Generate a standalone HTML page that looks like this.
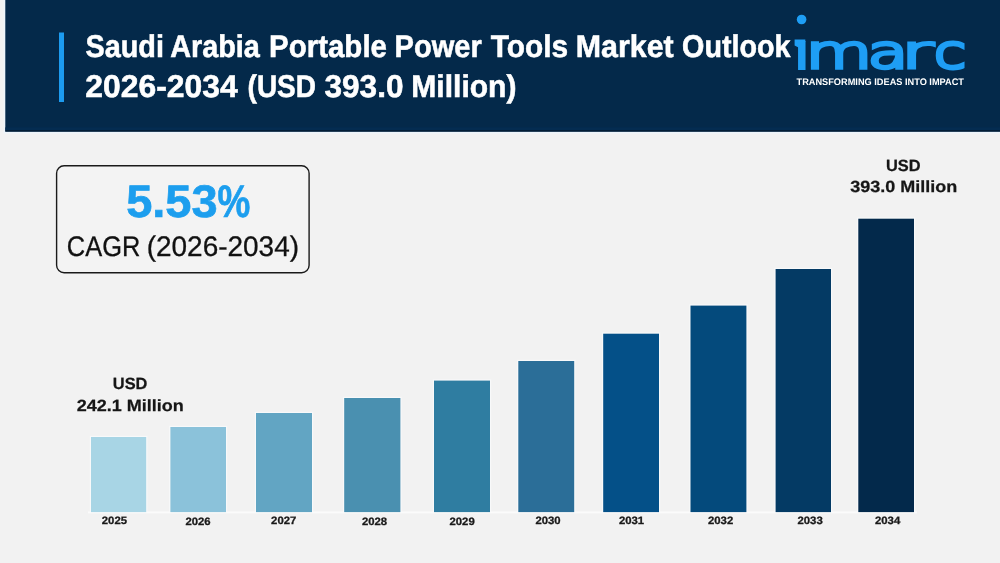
<!DOCTYPE html>
<html lang="en">
<head>
<meta charset="utf-8">
<title>Saudi Arabia Portable Power Tools Market Outlook 2026-2034</title>
<style>
html,body{margin:0;padding:0;background:#f2f2f2;}
body{width:1000px;height:563px;overflow:hidden;position:relative;}
svg{display:block;position:absolute;left:0;top:0;}
text{font-family:"Liberation Sans",sans-serif;text-rendering:geometricPrecision;}
.b{font-weight:700;}
.logo text{font-family:"DejaVu Sans","Liberation Sans",sans-serif;font-weight:200;vector-effect:non-scaling-stroke;text-rendering:auto;}
</style>
</head>
<body>
<svg width="1000" height="563" viewBox="0 0 1000 563">
  <defs>
    <clipPath id="idot"><rect x="780" y="39.5" width="40" height="40"/></clipPath>
  </defs>
  <rect x="0" y="0" width="1000" height="563" fill="#f2f2f2"/>
  <!-- header -->
  <rect x="3.6" y="0" width="996.4" height="133.6" fill="#eef5fb"/>
  <rect x="5.3" y="0" width="994.7" height="131.6" fill="#04294a"/>
  <rect x="5.3" y="127.4" width="994.7" height="2.6" fill="#042c51"/>
  <rect x="5.3" y="130" width="994.7" height="1.6" fill="#031d36"/>
  <rect x="59" y="32.5" width="5" height="69.5" fill="#1c9bf0"/>
  <text class="b" y="57" font-size="31.4" fill="#ffffff" stroke="#ffffff" stroke-width="0.55"><tspan x="85.44" textLength="78.46" lengthAdjust="spacingAndGlyphs">Saudi</tspan> <tspan x="170.19" textLength="89.69" lengthAdjust="spacingAndGlyphs">Arabia</tspan> <tspan x="269.00" textLength="117.97" lengthAdjust="spacingAndGlyphs">Portable</tspan> <tspan x="394.51" textLength="87.22" lengthAdjust="spacingAndGlyphs">Power</tspan> <tspan x="490.79" textLength="77.43" lengthAdjust="spacingAndGlyphs">Tools</tspan> <tspan x="575.80" textLength="97.90" lengthAdjust="spacingAndGlyphs">Market</tspan> <tspan x="682.09" textLength="108.51" lengthAdjust="spacingAndGlyphs">Outlook</tspan></text>
  <text class="b" y="96.9" font-size="31.4" fill="#ffffff" stroke="#ffffff" stroke-width="0.55"><tspan x="85.25" textLength="152.46" lengthAdjust="spacingAndGlyphs">2026-2034</tspan> <tspan x="247.55" textLength="68.51" lengthAdjust="spacingAndGlyphs">(USD</tspan> <tspan x="324.51" textLength="79.03" lengthAdjust="spacingAndGlyphs">393.0</tspan> <tspan x="411.33" textLength="105.13" lengthAdjust="spacingAndGlyphs">Million)</tspan></text>

  <!-- logo -->
  <circle cx="801.6" cy="19.5" r="4.8" fill="#1e9ef5"/>
  <polygon points="794.6,39.45 805.3,39.45 805.3,42 800,42 800,48.2 794.6,45.6" fill="#1e9ef5"/>
  <g class="logo" role="img" aria-label="imarc" font-size="46.8" fill="#1e9ef5" stroke="#1e9ef5" stroke-width="4.4" stroke-linejoin="miter"><g clip-path="url(#idot)"><text transform="translate(794.03,67.85) scale(1.235,1)">i</text></g><text transform="translate(805.71,67.85) scale(1.455,1)">m</text><text transform="translate(867.79,67.85) scale(1.411,1)">a</text><text transform="translate(901.06,67.85) scale(1.675,1)">r</text><text transform="translate(934.31,67.85) scale(1.221,1)">c</text></g>
  <text class="b" x="796.5" y="84.8" font-size="9.6" fill="#ffffff" textLength="167.5" lengthAdjust="spacingAndGlyphs">TRANSFORMING IDEAS INTO IMPACT</text>

  <!-- CAGR box -->
  <rect x="56.6" y="165.7" width="252.5" height="107" rx="7.5" ry="7.5" fill="#f3f3f3" stroke="#1a1a1a" stroke-width="1.4"/>
  <text class="b" y="217.1" font-size="45.6" fill="#1c9eee" stroke="#1c9eee" stroke-width="0.7"><tspan x="126.2" textLength="91.4" lengthAdjust="spacingAndGlyphs">5.53</tspan><tspan x="217.4" textLength="32.8" lengthAdjust="spacingAndGlyphs">%</tspan></text>
  <text y="255.9" font-size="28.3" fill="#111111" stroke="#111111" stroke-width="0.3"><tspan x="66.83" textLength="73.44" lengthAdjust="spacingAndGlyphs">CAGR</tspan> <tspan x="146.69" textLength="152.35" lengthAdjust="spacingAndGlyphs">(2026-2034)</tspan></text>

  <!-- bars -->
  <rect x="88" y="511.4" width="829" height="1.9" fill="#fbfbfb"/>
  <rect x="89.8" y="435.8" width="57.6" height="76.3" fill="#f8f9fa"/>
  <rect x="169.2" y="425.8" width="58.0" height="86.3" fill="#f8f9fa"/>
  <rect x="254.8" y="411.8" width="58.4" height="100.3" fill="#f8f9fa"/>
  <rect x="343.0" y="396.8" width="58.6" height="115.3" fill="#f8f9fa"/>
  <rect x="432.8" y="379.4" width="58.4" height="132.7" fill="#f8f9fa"/>
  <rect x="517.1" y="359.8" width="58.3" height="152.3" fill="#f8f9fa"/>
  <rect x="602.0" y="332.5" width="58.2" height="179.6" fill="#f8f9fa"/>
  <rect x="689.3" y="304.4" width="58.3" height="207.7" fill="#f8f9fa"/>
  <rect x="774.4" y="267.8" width="57.8" height="244.3" fill="#f8f9fa"/>
  <rect x="857.1" y="217.5" width="58.1" height="294.6" fill="#f8f9fa"/>
  <rect x="91" y="437" width="55.2" height="75.1" fill="#a8d5e5"/>
  <rect x="170.4" y="427" width="55.6" height="85.1" fill="#8bc2da"/>
  <rect x="256" y="413" width="56" height="99.1" fill="#62a5c3"/>
  <rect x="344.2" y="398" width="56.2" height="114.1" fill="#4a90b0"/>
  <rect x="434" y="380.6" width="56" height="131.5" fill="#2f7da1"/>
  <rect x="518.3" y="361" width="55.9" height="151.1" fill="#2b6e98"/>
  <rect x="603.2" y="333.7" width="55.8" height="178.4" fill="#045088"/>
  <rect x="690.5" y="305.6" width="55.9" height="206.5" fill="#044a7c"/>
  <rect x="775.6" y="269" width="55.4" height="243.1" fill="#043a64"/>
  <rect x="858.3" y="218.7" width="55.7" height="293.4" fill="#03294b"/>

  <!-- year labels -->
  <g class="b" font-size="10.7" fill="#1a1a1a" stroke="#1a1a1a" stroke-width="0.3" text-anchor="middle">
    <text x="114.4" y="523.8" textLength="25.2" lengthAdjust="spacingAndGlyphs">2025</text>
    <text x="198" y="524.6" textLength="25.2" lengthAdjust="spacingAndGlyphs">2026</text>
    <text x="283.7" y="523.7" textLength="25.2" lengthAdjust="spacingAndGlyphs">2027</text>
    <text x="374.5" y="525.2" textLength="25.2" lengthAdjust="spacingAndGlyphs">2028</text>
    <text x="462.1" y="525.2" textLength="25.2" lengthAdjust="spacingAndGlyphs">2029</text>
    <text x="548" y="524.2" textLength="25.2" lengthAdjust="spacingAndGlyphs">2030</text>
    <text x="631.5" y="524.2" textLength="25.2" lengthAdjust="spacingAndGlyphs">2031</text>
    <text x="720.6" y="524.2" textLength="25.2" lengthAdjust="spacingAndGlyphs">2032</text>
    <text x="810.1" y="524.2" textLength="25.2" lengthAdjust="spacingAndGlyphs">2033</text>
    <text x="887.6" y="524.2" textLength="25.2" lengthAdjust="spacingAndGlyphs">2034</text>
  </g>

  <!-- value labels -->
  <g class="b" font-size="16.2" fill="#161616" stroke="#161616" stroke-width="0.25">
    <text x="112.8" y="388.9" textLength="34.6" lengthAdjust="spacingAndGlyphs">USD</text>
    <text x="76.8" y="411.2" textLength="107" lengthAdjust="spacingAndGlyphs">242.1 Million</text>
    <text x="886" y="170.5" textLength="34.6" lengthAdjust="spacingAndGlyphs">USD</text>
    <text x="850.3" y="192.3" textLength="107" lengthAdjust="spacingAndGlyphs">393.0 Million</text>
  </g>
</svg>
</body>
</html>
